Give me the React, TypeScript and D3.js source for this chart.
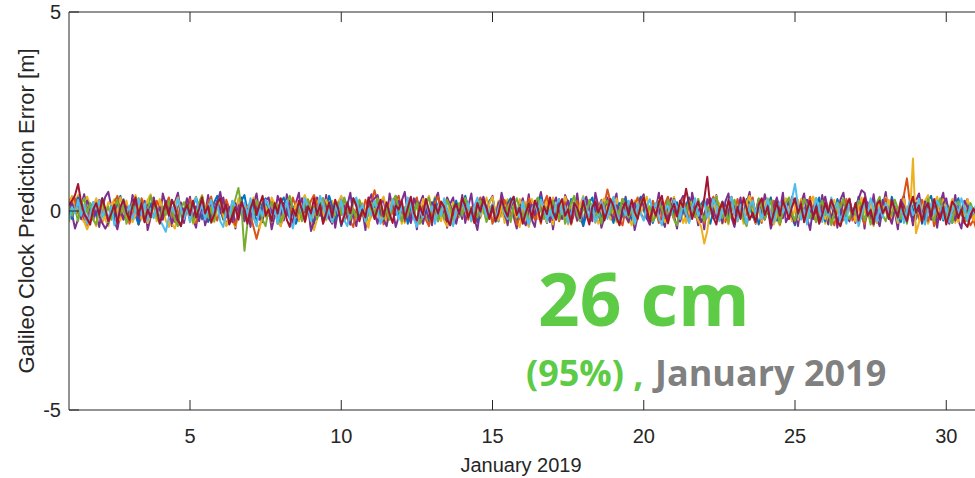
import * as d3 from "d3";
import React from "react";

// Galileo clock prediction error per satellite, in cm, one sample every 0.1 day from Jan 1
const FIRST_DAY = 1;
const STEP_DAYS = 0.1;

const errPurple2 = [
  30, -8, -44, -20, 14, 42, 6, -28, 18, -12, -40, 8, 36, 48, 10, -24, -46, -6, 28, 12,
  -18, 40, 20, -34, -10, 26, -48, -16, 32, 4, -26, 44, 16, -8, -38, 22, 46, -2, -30, 8,
  36, -20, -42, 12, 28, -6, 40, -30, -14, 20, 48, 2, -36, -16, 24, -44, 10, 34, -22, 6,
  -40, 18, 44, -10, -28, 30, 8, -46, -12, 38, 16, -24, 42, -4, -34, 20, 46, -18, -6, 28,
  -44, -8, 34, 12, -30, 40, -16, 22, -42, 4, 36, -26, 14, 46, -12, -38, 18, 2, -48, 24,
  42, -4, -32, 16, 30, -20, 44, 6, -40, -14, 26, 48, -8, -30, 10, -46, 20, 38, -16, 2,
  -36, 28, 46, -12, 8, -42, 18, 34, -24, -6, 40, -30, 12, 44, -18, -48, 6, 30, -10, 22,
  38, -26, -8, 46, 14, -36, 24, -14, -44, 10, 32, -2, 42, -22, -40, 16, 48, 4, -28, 18,
  -46, 8, 30, -18, 40, 20, -32, -6, 44, -12, -38, 24, 6, -26, 46, 12, -42, -16, 34, -4,
  20, 44, -30, -10, 36, -22, 10, -48, -14, 28, 42, -8, -34, 18, 4, 46, -20, -40, 14, 32,
  -12, -44, 22, 38, -2, -26, 46, 8, -36, 16, -46, 30, 12, -18, 40, -8, -30, 24, 44, -16,
  -40, 4, 34, -24, 18, 48, -10, -32, 26, -6, 42, 10, -44, -20, 30, 2, 46, -28, -12, 36,
  14, -38, 20, 44, -16, -48, 8, 32, -22, 40, -4, -34, 24, 12, -42, 28, 46, -10, -26, 6,
  -30, 36, 16, -44, 22, -8, 42, -20, -38, 10, 48, -14, 30, -2, -46, 18, 38, -24, 8, -36,
  26, 44, -6, -28, 34, -18, 12, -42, 20, 46, -10, -32, 4, 40, -24, -44, 16, 30, -14, 2, -20,
];
const errYellow2 = [
  -28, 6, 24, 40, -10, 14, 36, 12, -18, -38, 4, -30, -8, 22, 14, 30, -4, -24, 8, 26,
  -14, 22, 40, 6, -20, 4, -30, -12, 18, -6, 30, 8, -24, -40, -8, 16, 34, 2, -18, 10,
  -28, 20, 36, -2, -22, -6, 18, -30, -10, 24, 4, 32, -12, 6, -26, -40, -8, 20, 6, -22,
  12, 34, -6, 22, 8, -16, 10, -28, 22, 2, -36, -12, 14, 30, -4, 20, -26, 0, -14, 30,
  8, -20, 18, 36, 2, -24, -6, 26, -18, 12, 32, -8, 6, -28, 16, 30, -10, 20, 2, -30,
  -14, 8, -6, 24, 36, 4, -22, 10, -8, 26, 6, -30, 14, -18, 28, 8, -14, 30, -4, -28,
  12, 36, -10, 18, -24, -38, -6, 22, 8, -16, 30, -2, 16, -26, 4, 24, -18, 10, 34, 6,
  -24, -8, 26, -14, 12, 30, -6, 18, -26, -40, 4, 22, -12, 30, 10, -20, 16, -6, 28, -18,
  -34, 2, 20, -8, 36, 14, -16, 6, -26, 10, 30, -4, -20, 18, 4, -32, -12, 24, 8, -22,
  14, 32, -6, 20, -14, -30, 4, 26, -10, 12, 34, 0, -24, 8, -16, 28, 12, -28, -8, 18,
  36, 6, -18, 14, -30, -6, 22, -12, 30, 2, -26, 10, -4, 24, 38, -8, -22, 6, -34, 16,
  28, -10, 12, -24, 4, 32, -2, -30, 8, 20, -16, 6, 34, 12, -20, -36, 2, 18, -8, 26,
  10, -22, 30, -6, -28, 14, 36, 4, -14, 22, -32, -10, 16, 28, -6, 10, -24, 2, 32, -12,
  -26, 8, 24, -4, 14, -20, -38, 6, 20, -10, 34, 12, -16, 4, -30, 18, 30, -6, 10, -22,
  26, 2, -18, 12, -32, -8, 20, 36, -4, 16, -24, 6, 30, -12, -28, 10, 22, -6, 14, -20, 8,
];
const errBlue = [
  8, -20, 14, 34, 20, -6, -28, 4, 22, -10, 16, 32, -4, -26, 10, -16, 20, 38, 6, -22,
  -6, 26, -12, -34, 0, 22, -10, 16, 32, -4, -28, -10, 20, -6, 28, 10, -22, -38, 4, 20,
  -12, 12, 34, 6, -20, 10, -28, -12, 22, 38, 4, -22, 6, -32, -10, 16, -6, 26, 40, 0,
  -20, 12, -28, -6, 20, 32, -4, -26, 6, -16, 22, 34, 4, -20, 12, -32, -10, 26, 6, 28,
  -12, -32, 0, 20, -16, 10, 38, 12, -22, 4, -38, -12, 22, -4, 32, 16, -20, 6, -28, -6,
  26, 10, 34, -10, -26, 12, -16, 22, 38, -6, -22, 4, -32, 16, -6, 28, 10, -20, 12, -26,
  0, 32, 6, -16, 22, -10, -34, 4, 26, -4, 16, 38, 10, -22, 6, -28, -12, 20, -10, 26,
  34, -4, -26, 10, -16, 20, 32, -6, -28, 4, 16, -10, 24, 2, -20, 14, 36, -8, -30, 6,
  18, -14, 28, 8, -24, -2, 30, 12, -18, 6, -36, -12, 20, 34, -2, 14, -22, 8, 26, -10,
  -30, 4, 20, -14, 32, 10, -24, -6, 16, 36, 2, -20, 10, -30, -8, 24, 6, -16, 30, 12,
  -10, 22, -26, -4, 14, 34, -12, 6, -22, 18, 28, -6, -32, 0, 16, -14, 24, 8, -20, 36,
  4, -26, 12, -8, 30, 18, -16, 2, -34, -10, 22, 6, 34, -12, -24, 10, -4, 26, 14, -18,
  -36, 0, 18, -10, 28, 8, -20, 12, 34, -6, -26, 4, 20, -16, 30, 10, -22, -4, 24, -12,
  8, 32, -14, -30, 6, 22, -8, 14, -24, 28, 2, -18, 36, 10, -12, -28, 16, -4, 24, 6,
  -20, 12, -32, -6, 26, 38, 0, -16, 10, -24, 20, 4, -30, 14, 32, -8, -22, 6, 18, -12, -2,
];
const errOrange = [
  -16, 12, 32, -6, 20, -26, -38, 6, -12, 16, 28, -10, 6, -28, -12, 22, 38, 4, -20, 10,
  -32, -10, 20, -4, 32, 12, -22, 4, -16, 26, 8, -20, 14, 34, -6, -28, 10, 22, -14, 4,
  30, -12, -30, 6, 18, -8, 24, 36, -2, -24, 10, -16, 28, 6, -20, -36, 2, 20, -10, 14,
  -12, -40, -70, -40, -10, 10, -12, 28, 6, -22, -38, 0, 20, -6, 34, 10, -20, 12, -28, 4,
  26, 40, 16, -8, 24, -12, 10, -28, -6, 22, -10, 32, 6, -26, -40, 4, 20, -12, 28, 10,
  20, 52, 22, 0, -34, -12, 16, -6, 26, 38, -4, -26, 10, -16, 22, 34, -10, 12, -22, -38,
  0, 20, 36, 8, -16, 6, -32, -12, 16, -6, 28, 4, -22, 10, -28, 20, 34, 0, -20, 12,
  -32, -10, 22, -4, 28, 10, -20, 6, -34, -16, 16, -6, 32, 12, -22, 4, -32, 20, 38, 6,
  -16, 16, -26, -6, 22, -12, -34, 10, 26, -10, 16, 2, -28, 12, -20, 10, 28, 18, 54, 22,
  -8, 14, -22, -36, 6, 24, -10, 16, 34, -4, -22, 8, -14, 26, 4, -30, -10, 18, 36, 2,
  -20, 12, -6, 30, 8, -26, 4, -16, 24, 10, -32, -8, 20, 36, -2, -18, 14, -28, 6, 22,
  -10, 30, 4, -24, -6, 16, 34, -12, 8, -30, 18, 2, -20, 26, 10, -34, -4, 12, 32, -8,
  -22, 6, 24, -14, 10, 36, -6, -28, 14, -2, 26, 8, -18, -36, 4, 20, -10, 30, 12, -24,
  -4, 22, -12, -34, 10, 26, -10, 16, -20, 6, 30, -8, -26, 12, -4, 20, 40, 82, 20, -28,
  4, -20, 28, 10, -26, 6, -38, -16, 14, 30, -6, -24, 8, -12, 22, 4, -30, -18, -36, -22, -48,
];
const errYellow = [
  22, 38, -4, 14, -20, -26, -46, -26, 10, 32, -6, 16, -22, -38, 0, 22, -12, 34, 12, -20,
  6, -28, -10, 20, -22, 4, 28, 42, 10, -26, 12, -12, 22, -4, -32, -44, -12, 16, -10, 28,
  6, -32, -16, 20, 40, 4, -16, 12, -28, 6, 26, -10, -38, -12, 16, -6, 32, 10, -26, 4,
  26, -16, -32, -44, -10, 12, -6, 34, 16, -22, -38, 0, 20, 32, -4, 16, -20, 26, 40, 6,
  -26, -48, -20, 10, -12, 28, 4, -26, -6, 22, 38, -4, -20, -34, 6, -12, 26, 10, -22, -42,
  16, 28, -10, -22, 4, -34, 12, 30, -6, 20, -32, -12, 22, 34, 0, -26, 6, -32, 22, 38,
  6, -16, 12, -26, 20, 32, -10, -34, -12, 16, -6, 32, 4, -26, 10, 28, -12, 6, -14, 20,
  36, -8, -24, 14, -30, -4, 24, 8, -16, 30, 10, -22, -40, -6, 18, 4, 28, -12, -28, 12,
  34, 2, -18, 22, -8, -34, 6, 26, -14, 16, 38, -2, -24, 10, -30, -10, 20, 32, -6, -20,
  14, -28, 4, 30, 12, -16, -36, 0, 22, -8, 18, 36, -10, -26, 6, -14, 28, 8, -32, 12,
  24, -6, 16, -30, -12, 8, 30, -4, -24, -40, -82, -50, 6, 28, -6, 20, -32, -12, 22, 34,
  0, -26, 6, -32, 22, 38, 6, -16, 12, -26, 20, 32, -10, -34, -12, 16, -6, 32, 4, -26,
  10, 28, -12, 6, -14, 22, 36, -8, -28, 14, -20, 4, 30, -10, 18, -36, -14, 8, 26, -4,
  -22, 12, 34, 2, -16, 24, -8, -30, 10, 20, -4, 28, -18, 6, -26, 16, 30, -6, -10, 132,
  -56, -28, 10, 26, 40, -4, -22, 12, -10, 28, 6, -18, 14, -30, 22, 4, -12, 30, 10, -24, 16,
];
const errPurple = [
  -10, 20, -4, 28, -20, 6, 26, 4, -22, 10, -12, -30, -44, -30, 12, -6, 26, 4, -22, 10,
  -12, 32, 12, -20, 6, -28, 16, -6, 34, -12, 10, -22, 26, 4, -32, -10, -28, 20, -4, 32,
  6, -20, 12, -26, 16, -36, -10, 22, 4, 26, -6, 34, -16, 10, -28, 20, -4, 22, -26, 6,
  -16, 28, 10, -22, 4, 26, 34, -6, 12, -32, -10, 20, -12, 26, 4, -22, 10, 32, -4, 16,
  -50, -26, 4, -12, 32, 10, -20, -32, 6, -10, 28, 12, -16, -34, 4, -10, 22, 6, -20, 12,
  22, 32, 40, 4, -22, -38, 0, 20, -10, 26, 6, -22, 10, -28, 32, 12, -12, -32, 4, -16,
  22, 6, -26, 10, -12, 34, 16, -10, -32, 4, -20, 26, 6, -16, 12, -28, 20, 36, 8, -14,
  4, -24, 18, 30, -8, -30, 10, 24, -4, 14, -20, -36, 2, 16, -10, 28, 6, -18, 8, -28,
  12, 34, -2, -20, 6, 26, -14, 10, -24, -6, 18, 36, 4, -16, 22, -10, -30, 8, 28, -4,
  -20, 14, 2, 30, -12, -28, 8, 20, -6, 32, 12, -18, -34, 0, 16, -8, 24, 6, -22, 10,
  30, -4, -26, 12, -14, 22, 34, -10, 4, -28, -8, 18, 32, 2, -20, 10, -30, 16, -6, 26,
  8, -16, 24, -10, -34, 6, 20, -4, 30, 14, -22, 2, -28, 12, 34, -6, -18, 8, 24, -12,
  -32, 4, 18, -8, 28, 10, -20, 6, -26, 16, 36, -2, -16, 12, -30, -8, 22, 4, 30, -14,
  10, 30, 52, 46, 10, -16, -34, 4, -20, 26, 6, -12, -32, 6, -10, 28, 12, -20, 4, -28,
  20, 0, -14, 24, 8, -22, 12, -30, -6, 18, 32, -10, 4, -24, 14, -4, 26, 10, -18, 6, -8,
];
const errGreen = [
  12, -12, 6, -26, 16, 32, -4, 20, -22, -34, 4, 26, -10, 12, -22, 6, 28, -6, 16, -32,
  -12, 20, -4, 32, 10, -20, 4, 38, 12, -14, -30, 12, -10, 26, 4, -22, -38, 6, 22, -6,
  16, -28, -6, 22, 38, 4, -16, 10, -26, 20, 28, -6, 12, -20, 6, 30, 58, 10, -100, -30,
  12, -10, 26, 4, -22, -38, 6, 22, -6, 16, -28, -6, 22, 38, 4, -16, 10, -26, 20, 28,
  -6, 12, -20, 6, 32, -10, 16, -28, 0, 22, -10, 34, 10, -22, 4, -16, 28, 6, -26, -6,
  20, -12, 32, 16, -20, 6, -22, 26, 38, 4, -26, 10, -12, 28, -6, 20, -32, -10, 16, 34,
  -4, 12, -26, 6, -20, 28, 10, -22, -4, 20, -12, 32, 4, -22, 10, -16, 26, 6, -28, -10,
  16, -22, 4, 28, -6, 12, -28, 10, 32, 6, -20, 16, -32, -6, 22, 34, 0, -20, 10, -12,
  26, 4, -22, 12, -32, -6, 20, 38, -10, -26, 10, -12, 28, 6, -20, 4, -32, 16, 26, -6,
  14, -24, 2, 30, 10, -16, 6, -34, -8, 20, 34, -4, 12, -26, -10, 24, 4, -18, 28, 8,
  -22, -36, 4, 18, -8, 26, 10, -14, 30, -2, -26, 12, -6, 22, 36, 2, -18, 8, -30, 14,
  28, -6, 10, -22, -38, 0, 16, -10, 32, 12, -20, 4, 26, -14, 8, -32, -4, 20, 34, -8,
  -24, 10, -4, 30, 16, -18, 2, -28, 12, 26, -10, 4, -36, -6, 22, 8, 32, -12, -20, 6,
  -8, 26, 14, -24, 4, -34, -6, 20, 36, -10, -26, 10, -12, 28, 6, -20, 4, -32, 16, 26,
  -6, 18, -14, 4, 30, -10, -24, 12, 32, -2, -18, 8, -30, 14, 24, -8, 6, -26, 20, 2, -12,
];
const errLightBlue = [
  -22, 10, -6, 28, -12, 16, -32, -10, 22, 4, 26, -16, 6, -28, 12, -36, -14, 8, 30, -6,
  14, -20, 4, 32, -10, 18, -24, 6, -18, 10, -22, -36, -52, -16, 10, -6, 32, 4, -20, 12,
  -28, 20, 34, -4, 16, -22, 6, 28, -10, 20, -26, -40, 0, -16, 26, 10, -20, 4, 22, -10,
  32, -16, -38, 6, -12, 28, 12, -22, 4, -32, 16, -6, 26, -16, -44, -6, 20, -4, 32, 10,
  -26, 6, -10, 38, 16, -20, 4, -28, 16, -6, 28, -22, -38, 0, 20, 34, -4, 16, -26, 6,
  -12, 26, 4, -32, -10, 20, -6, 28, 6, -22, 12, -10, 34, 16, -20, -40, 4, -16, 26, -6,
  12, -32, 10, -12, 32, 4, -22, -38, 6, -10, 28, 0, 20, -26, 12, 34, -8, 22, -14, 2,
  18, -28, 8, 30, -6, -20, 14, 36, 2, -16, 24, -12, -34, 6, 20, -4, 28, 10, -24, 4,
  -18, 16, 30, -8, 12, -30, -6, 22, 8, -22, 34, 4, -14, 18, -28, -10, 24, 2, -20, 14,
  36, -4, -26, 10, -12, 26, 6, -32, 18, -8, -24, 12, 30, -2, 20, -18, -36, 4, 14, -10,
  28, 8, -20, 22, -6, -30, 10, 32, -12, 6, 24, -16, -4, 30, 12, -26, 6, -14, 20, 34,
  -8, -24, 16, 2, -32, 12, 26, -6, 14, -20, 4, 30, -10, -28, 8, 22, -4, 18, -14, 30,
  68, 12, -22, 4, -34, 16, -6, 32, 6, -28, 10, -12, 34, 4, 20, -26, -6, -32, 26, -4,
  12, -38, -10, 22, -12, 32, 6, -26, 10, -16, 20, -6, 28, 8, -22, 14, -30, 2, 24, -10,
  6, 30, -16, -34, 4, 18, -8, 26, 10, -20, 14, -28, 2, 22, -10, 32, 8, -24, 12, -6, 20,
];
const errRed = [
  16, 26, 40, 68, 22, -6, -20, -34, 4, 20, -10, 32, 6, -26, -6, 16, -32, 10, 28, -4,
  -22, 12, 34, -10, 20, -28, 4, -16, 26, 6, -32, -4, 22, -12, 28, 10, -22, -38, -4, 16,
  -10, 26, -16, 6, 34, -6, 12, -28, -10, 20, 32, -4, 16, -34, -12, 10, -22, 22, 4, -32,
  6, 28, -10, 16, 38, -12, 4, -26, 20, -6, 32, 10, -22, -40, 6, -12, 26, 4, -26, 12,
  -6, 32, -10, 16, -32, -6, 22, -16, 28, 6, -34, -12, 20, -6, 32, 12, -26, 4, -16, 34,
  10, -20, 6, 28, -14, 22, -8, -30, 14, 4, 26, -18, 8, 36, -4, -24, 12, -10, 30, 2,
  -28, 16, -6, 24, 10, -22, -36, 4, 18, -8, 32, 12, -16, 6, -30, 20, -2, 28, 8, -20,
  14, -26, -6, 30, 4, -14, 22, 36, -10, 8, -32, -4, 18, -20, 26, 6, -28, 12, -8, 34,
  -2, -22, 14, 30, -12, 4, -30, 20, 8, -18, 26, -6, -34, 10, 24, -4, 16, -24, 2, 30,
  12, -16, -36, 6, 22, -10, 28, -2, -20, 14, 34, 4, -26, 10, -12, 22, 38, -8, -30, 0,
  18, -14, 26, 10, 56, 16, -20, 6, 24, -8, 30, 86, 10, -16, -34, 4, 22, -12, 28, -4,
  -32, 10, -20, 34, 6, -22, -4, -28, 16, 32, -10, 12, -34, -6, 22, -12, 26, 4, -20, 10,
  32, -6, 16, -28, 4, 26, -16, 12, -32, -10, 20, -4, 28, 6, -26, -38, -10, 14, 30, -8,
  20, -24, 6, 34, -12, 2, -30, 16, 26, -6, 10, -20, 28, 4, -16, 22, -8, -26, 12, 36,
  -4, 14, -28, 8, 20, -14, 30, 0, -22, 10, -34, -6, 24, 12, -18, 4, -30, -40, -12, 6, -10,
];

const seriesList = [
  errPurple2, errYellow2, errBlue, errOrange, errYellow, errPurple, errGreen, errLightBlue, errRed,
];
const seriesColors = [
  "#7E2F8E", "#EDB120", "#0072BD", "#D95319", "#EDB120", "#7E2F8E", "#77AC30", "#4DBEEE", "#A2142F",
];

const xTicks = [5, 10, 15, 20, 25, 30];
const yTicks = [-5, 0, 5];

const W = 975, H = 478;
const left = 69, top = 12, bottom = 410;
const axisColor = "#262626";

export default function App() {
  const x = d3.scaleLinear().domain([1, 32]).range([left, left + 31 * 30.25]);
  const y = d3.scaleLinear().domain([-5, 5]).range([bottom, top]);
  const right = x(32);

  const line = d3.line<number>()
    .x((d, i) => x(FIRST_DAY + i * STEP_DAYS))
    .y(d => y(d / 100));

  return (
    <svg width={W} height={H} style={{ position: "absolute", left: 0, top: 0, background: "#fff" }}
      fontFamily="'Liberation Sans', Arial, sans-serif">
      <defs>
        <clipPath id="plot">
          <rect x={left} y={top} width={right - left} height={bottom - top} />
        </clipPath>
      </defs>
      <rect width={W} height={H} fill="#fff" />

      <g clipPath="url(#plot)" fill="none" strokeWidth={2} strokeLinejoin="round">
        {seriesList.map((s, k) => (
          <path key={k} d={line(s) || ""} stroke={seriesColors[k]} />
        ))}
      </g>

      {/* box and ticks */}
      <g stroke={axisColor} strokeWidth={1} fill="none">
        <path d={`M${right},${top}H${left}V${bottom}H${right}`} />
        {xTicks.map(t => (
          <g key={t}>
            <line x1={x(t)} x2={x(t)} y1={bottom} y2={bottom - 10} />
            <line x1={x(t)} x2={x(t)} y1={top} y2={top + 10} />
          </g>
        ))}
        {yTicks.map(t => (
          <line key={t} x1={left} x2={left + 10} y1={y(t)} y2={y(t)} />
        ))}
      </g>

      <g fill={axisColor} fontSize={20}>
        {xTicks.map(t => (
          <text key={t} x={x(t)} y={bottom + 33} textAnchor="middle">{t}</text>
        ))}
        {yTicks.map(t => (
          <text key={t} x={left - 8} y={y(t) + 7} textAnchor="end">{t}</text>
        ))}
        <text x={(left + 975) / 2 - 1} y={472} textAnchor="middle">January 2019</text>
        <text transform={`translate(34,${(top + bottom) / 2}) rotate(-90)`} textAnchor="middle" fontSize={22}>
          Galileo Clock Prediction Error [m]
        </text>
      </g>

      <g fontFamily="'Open Sans', sans-serif" fontWeight={700}>
        <text x={538} y={326} fontSize={73} fill="#5DCB46">26 cm</text>
        <text x={526} y={386} fontSize={36} fill="#5DCB46">(95%) ,</text>
        <text x={655} y={386} fontSize={36} fill="#808080">January 2019</text>
      </g>
    </svg>
  );
}
